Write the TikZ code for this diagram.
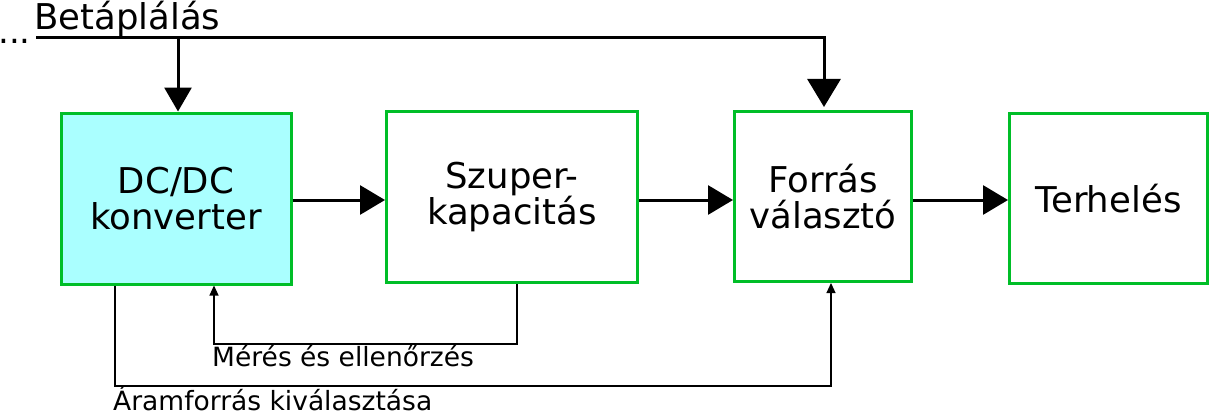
\documentclass[tikz,border=0pt]{standalone}
\usepackage{fontspec}
\setmainfont{DejaVu Sans}
\usetikzlibrary{arrows.meta,calc}
\definecolor{boxgreen}{RGB}{0,190,40}
\definecolor{boxcyan}{RGB}{170,255,255}
\tikzset{
  blockbox/.style={draw=boxgreen, line width=3pt, align=center, inner sep=0pt,
    font=\fontsize{35.5}{35.5}\selectfont},
  bigarrow/.style={line width=3pt, -{Triangle[length=25pt,width=29pt]}},
  thinarrow/.style={line width=1.1pt, -{Triangle[length=10pt,width=9pt]}},
  lbl/.style={anchor=base west, inner sep=0pt, font=\fontsize{26.5}{28}\selectfont},
}
\begin{document}
\begin{tikzpicture}[x=1pt,y=-1pt]
\useasboundingbox (0,0) rectangle (1210,412);
\node[blockbox, fill=boxcyan, minimum width=230pt, minimum height=171pt] (dc) at (176,198.5) {DC/DC\\konverter};
\node[blockbox, minimum width=251pt, minimum height=171pt] (sc) at (512,197) {Szuper-\\kapacitás};
\node[blockbox, minimum width=177pt, minimum height=170pt] (fv) at (823,196.5) {Forrás\\választó};
\node[blockbox, minimum width=198pt, minimum height=170pt] (th) at (1108.5,198.5) {Terhelés};
% horizontal arrows
\coordinate (ya) at (0,200);
\draw[bigarrow] (dc.east |- ya) -- (sc.west |- ya);
\draw[bigarrow] (sc.east |- ya) -- (fv.west |- ya);
\draw[bigarrow] (fv.east |- ya) -- (th.west |- ya);
% feed line
\node[anchor=base west, inner sep=0pt, font=\fontsize{35.5}{35.5}\selectfont] (bet) at (34,30) {Betáplálás};
\node[anchor=base west, inner sep=0pt, font=\fontsize{34}{35}\selectfont] (dots) at (-2,43.5) {...};
\coordinate (feedL) at (36,38);
\coordinate (tap) at (178,38);
\coordinate (feedR) at (824,38);
\draw[line width=3pt, -{Triangle[length=28pt,width=33pt]}] (feedL) -- (feedR) -- ($(feedR |- fv.north)+(0,-3)$);
\draw[line width=3pt, -{Triangle[length=24pt,width=27pt]}] (tap) -- (tap |- dc.north);
% thin feedback lines
\coordinate (m1) at (517,344);
\coordinate (m2) at (214,344);
\draw[thinarrow] (m1 |- sc.south) -- (m1) -- (m2) -- (m2 |- dc.south);
\coordinate (a1) at (115,386);
\coordinate (a2) at (831,386);
\draw[thinarrow] (a1 |- dc.south) -- (a1) -- (a2) -- (a2 |- fv.south);
\node[lbl] (meres) at (212,366) {Mérés és ellenőrzés};
\node[lbl] (aram) at (113,410) {Áramforrás kiválasztása};
\end{tikzpicture}
\end{document}
